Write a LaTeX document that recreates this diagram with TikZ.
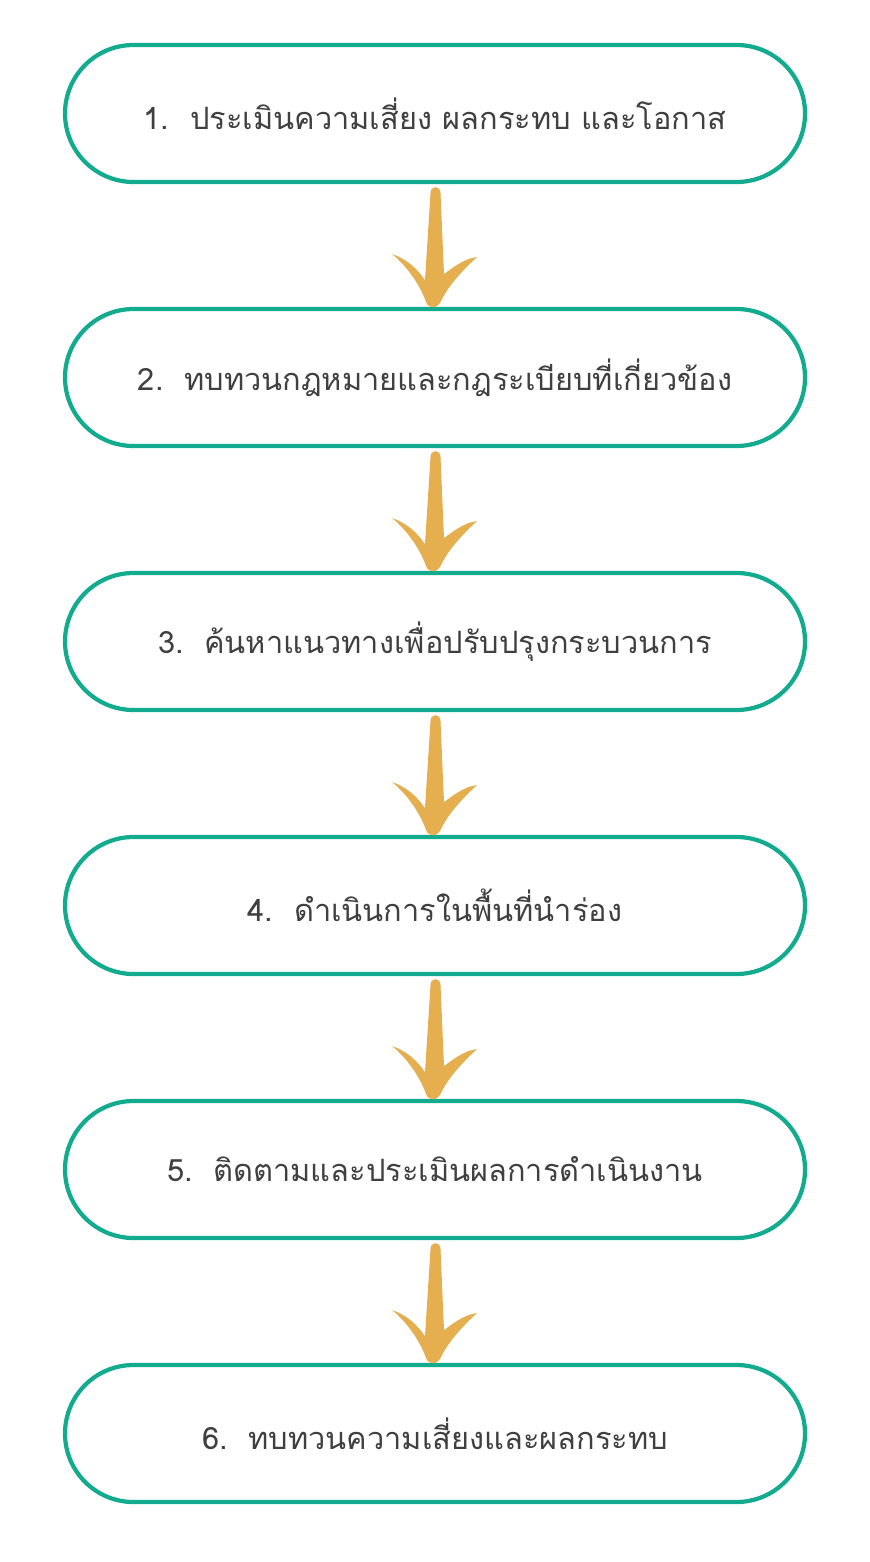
\documentclass[tikz,border=0pt]{standalone}
\usepackage{xcolor}
\usepackage{fontspec}
\newfontfamily\thaifont[Script=Thai]{Loma}
\usepackage{tikz}
\definecolor{stepteal}{RGB}{18,171,142}
\definecolor{arrowgold}{RGB}{229,174,79}
\definecolor{textgray}{RGB}{64,64,64}
\tikzstyle{stepbox} = [rectangle, rounded corners=1.37cm, minimum width=14.8cm, minimum height=2.74cm, text centered, draw=stepteal, line width=2.4pt, fill=white, font=\thaifont\fontsize{17.5}{21}\selectfont, text=textgray]
\tikzstyle{leafarrow} = [fill=arrowgold, draw=none]

% curved gold arrow hanging below a node
\newcommand{\goldarrow}[1]{%
  \begin{scope}[shift={(#1.south)}, x=0.02cm, y=-0.02cm]
    \fill[leafarrow] (-4.5,9) .. controls (-4.5,1) and (5.5,1) .. (5.5,9)
      -- (9,90) .. controls (22,80) and (32,74) .. (42,73)
      .. controls (30,84) and (14,100) .. (6,117)
      .. controls (2,125) and (-6,125) .. (-9,118)
      .. controls (-15,100) and (-30,80) .. (-43,70)
      .. controls (-30,74) and (-18,84) .. (-10,96)
      -- cycle;
  \end{scope}}

\begin{document}
\begin{tikzpicture}[node distance=5.28cm]
    \useasboundingbox (0,0) rectangle (17.38,-31.24);
    % Steps
    \node (assess) [stepbox] at (8.7,-2.27) {1.\ \ ประเมินความเสี่ยง ผลกระทบ และโอกาส};
    \node (laws) [stepbox, below of=assess] {2.\ \ ทบทวนกฎหมายและกฎระเบียบที่เกี่ยวข้อง};
    \node (improve) [stepbox, below of=laws] {3.\ \ ค้นหาแนวทางเพื่อปรับปรุงกระบวนการ};
    \node (pilot) [stepbox, below of=improve] {4.\ \ ดำเนินการในพื้นที่นำร่อง};
    \node (monitor) [stepbox, below of=pilot] {5.\ \ ติดตามและประเมินผลการดำเนินงาน};
    \node (review) [stepbox, below of=monitor] {6.\ \ ทบทวนความเสี่ยงและผลกระทบ};

    % Arrows
    \goldarrow{assess}
    \goldarrow{laws}
    \goldarrow{improve}
    \goldarrow{pilot}
    \goldarrow{monitor}
\end{tikzpicture}
\end{document}
